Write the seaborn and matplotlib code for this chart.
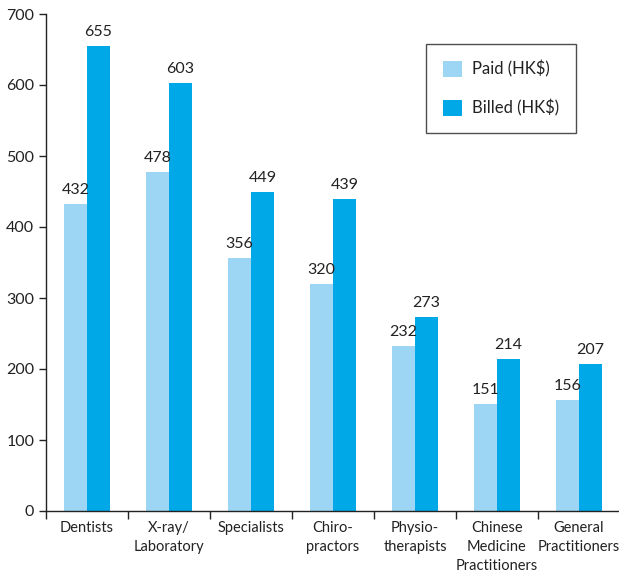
import pandas as pd
import matplotlib
matplotlib.use("Agg")
import matplotlib.pyplot as plt
import seaborn as sns

# 数据
categories = ["Dentists", "X-ray/\nLaboratory", "Specialists", "Chiro-\npractors",
              "Physio-\ntherapists", "Chinese\nMedicine\nPractitioners", "General\nPractitioners"]
paid = [432, 478, 356, 320, 232, 151, 156]
billed = [655, 603, 449, 439, 273, 214, 207]
series_names = ["Paid (HK$)", "Billed (HK$)"]
colors = ["#9dd5f5", "#00a8e8"]

df = pd.DataFrame({
    "category": categories * 2,
    "value": paid + billed,
    "series": [series_names[0]] * len(categories) + [series_names[1]] * len(categories),
})

sns.set_style("white")
plt.rcParams["font.family"] = ["Lato", "DejaVu Sans"]
txt = "#222222"

fig = plt.figure(figsize=(6.19, 5.8), dpi=100)
ax = fig.add_axes([46 / 619, 69 / 580, 574 / 619, 497 / 580])

sns.barplot(data=df, x="category", y="value", hue="series", palette=colors,
            width=0.56, saturation=1, linewidth=0, ax=ax, legend=True)

for cont in ax.containers:
    ax.bar_label(cont, fmt="%d", padding=5, fontsize=11.5, color=txt)

ax.set_xlim(-0.5, 6.5)
ax.set_ylim(0, 700)
ax.set_yticks(range(0, 701, 100))
ax.set_xlabel("")
ax.set_ylabel("")

# category-boundary ticks on x axis
ax.set_xticks([i + 0.5 for i in range(-1, 7)], minor=True)
ax.tick_params(axis="x", which="major", length=0, pad=7, labelsize=10.5, labelcolor=txt)
ax.tick_params(axis="x", which="minor", length=6, width=1, direction="out", color=txt, bottom=True)
ax.tick_params(axis="y", length=5, width=1, direction="out", color=txt, labelsize=11.5,
               labelcolor=txt, left=True)
for lab in ax.get_xticklabels():
    lab.set_linespacing(1.45)

for s in ["top", "right"]:
    ax.spines[s].set_visible(False)
for s in ["left", "bottom"]:
    ax.spines[s].set_color(txt)
    ax.spines[s].set_linewidth(1)

leg = ax.legend(loc="upper right", bbox_to_anchor=(530 / 574, 1 - 30 / 497), borderaxespad=0,
                frameon=True, fancybox=False, edgecolor=txt, fontsize=12, handlelength=1.15,
                handleheight=1.15, labelspacing=1.3, borderpad=1.0, handletextpad=0.6)
leg.get_frame().set_linewidth(1)
for t in leg.get_texts():
    t.set_color(txt)

fig.savefig("out.png", dpi=100)
